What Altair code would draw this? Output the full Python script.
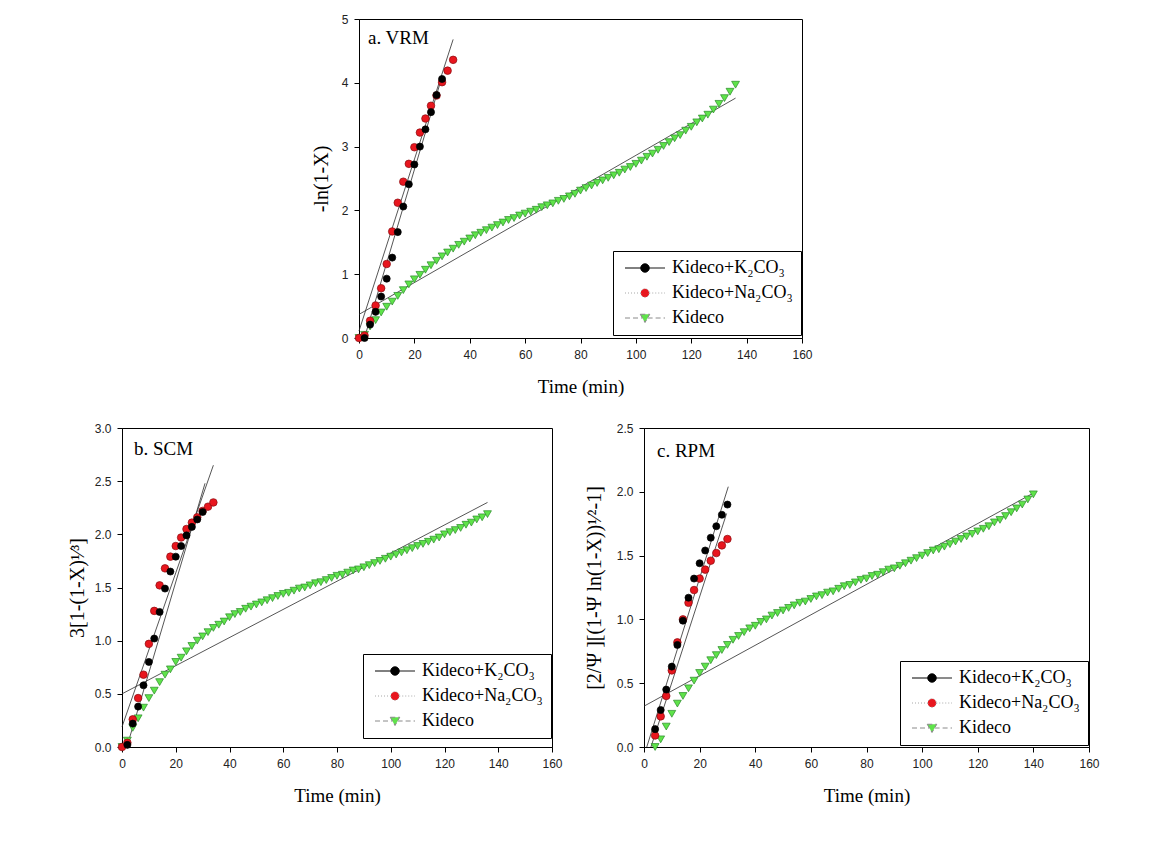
import altair as alt
import pandas as pd

SERIES = ["Kideco+K₂CO₃", "Kideco+Na₂CO₃", "Kideco"]

# ---------------- Panel a: VRM ----------------
a_k_t = [2, 4, 6, 8, 10, 12, 14, 16, 18, 20, 22, 24, 26, 28, 30]
a_k_y = [0.00, 0.21, 0.41, 0.65, 0.93, 1.26, 1.66, 2.06, 2.41, 2.72, 3.00, 3.27, 3.54, 3.81, 4.06]
a_na_t = [0, 2, 4, 6, 8, 10, 12, 14, 16, 18, 20, 22, 24, 26, 28, 30, 32, 34]
a_na_y = [0.00, 0.04, 0.27, 0.51, 0.78, 1.16, 1.67, 2.12, 2.45, 2.73, 2.99, 3.22, 3.44, 3.64, 3.80, 4.01, 4.19, 4.36]
a_kd_t = [0, 2, 4, 6, 8, 10, 12, 14, 16, 18, 20, 22, 24, 26, 28, 30, 32, 34, 36, 38,
          40, 42, 44, 46, 48, 50, 52, 54, 56, 58, 60, 62, 64, 66, 68, 70, 72, 74, 76, 78,
          80, 82, 84, 86, 88, 90, 92, 94, 96, 98, 100, 102, 104, 106, 108, 110, 112, 114, 116, 118,
          120, 122, 124, 126, 128, 130, 132, 134, 136]
a_kd_y = [0.00, 0.05, 0.18, 0.28, 0.40, 0.49, 0.57, 0.66, 0.75, 0.84,
          0.92, 0.99, 1.07, 1.14, 1.21, 1.28, 1.34, 1.40, 1.46, 1.51,
          1.56, 1.61, 1.65, 1.69, 1.73, 1.77, 1.81, 1.85, 1.88, 1.92,
          1.95, 1.98, 2.01, 2.05, 2.08, 2.11, 2.15, 2.18, 2.22, 2.26,
          2.31, 2.35, 2.39, 2.43, 2.47, 2.51, 2.55, 2.59, 2.64, 2.68,
          2.73, 2.78, 2.84, 2.89, 2.95, 3.01, 3.07, 3.13, 3.18, 3.25,
          3.31, 3.38, 3.44, 3.50, 3.58, 3.67, 3.76, 3.86, 3.97]
# fitted straight lines: (t start, t end, y start, y end)
a_fit_t0 = [1.95, 0.0, 0.0]
a_fit_t1 = [30.0, 34.0, 136.0]
a_fit_y0 = [0.00, 0.11, 0.37]
a_fit_y1 = [4.10, 4.68, 3.76]

# ---------------- Panel b: SCM ----------------
b_k_t = [2, 4, 6, 8, 10, 12, 14, 16, 18, 20, 22, 24, 26, 28, 30]
b_k_y = [0.02, 0.22, 0.38, 0.58, 0.80, 1.02, 1.27, 1.49, 1.65, 1.79, 1.89, 1.99, 2.07, 2.14, 2.21]
b_na_t = [0, 2, 4, 6, 8, 10, 12, 14, 16, 18, 20, 22, 24, 26, 28, 30, 32, 34]
b_na_y = [0.00, 0.04, 0.26, 0.46, 0.68, 0.97, 1.28, 1.52, 1.68, 1.79, 1.89, 1.97, 2.05, 2.11, 2.16, 2.22, 2.26, 2.30]
b_kd_t = a_kd_t
b_kd_y = [0.00, 0.06, 0.18, 0.27, 0.37, 0.46, 0.53, 0.61, 0.68, 0.73,
          0.80, 0.84, 0.90, 0.95, 1.00, 1.04, 1.08, 1.12, 1.15, 1.18,
          1.22, 1.25, 1.27, 1.30, 1.32, 1.34, 1.36, 1.38, 1.40, 1.42,
          1.44, 1.45, 1.47, 1.49, 1.50, 1.52, 1.54, 1.55, 1.57, 1.59,
          1.61, 1.62, 1.64, 1.66, 1.67, 1.69, 1.71, 1.73, 1.75, 1.77,
          1.79, 1.81, 1.83, 1.85, 1.87, 1.89, 1.91, 1.93, 1.95, 1.97,
          2.00, 2.02, 2.04, 2.06, 2.09, 2.11, 2.14, 2.16, 2.19]
b_fit_t0 = [1.8, 0.0, 0.0]
b_fit_t1 = [30.9, 34.0, 136.0]
b_fit_y0 = [0.00, 0.19, 0.50]
b_fit_y1 = [2.48, 2.65, 2.30]

# ---------------- Panel c: RPM ----------------
c_k_t = [4, 6, 8, 10, 12, 14, 16, 18, 20, 22, 24, 26, 28, 30]
c_k_y = [0.14, 0.29, 0.45, 0.63, 0.80, 0.99, 1.17, 1.32, 1.44, 1.54, 1.64, 1.73, 1.82, 1.90]
c_na_t = [4, 6, 8, 10, 12, 14, 16, 18, 20, 22, 24, 26, 28, 30]
c_na_y = [0.09, 0.24, 0.40, 0.60, 0.82, 1.00, 1.13, 1.23, 1.32, 1.39, 1.46, 1.52, 1.58, 1.63]
c_kd_t = [4, 6, 8, 10, 12, 14, 16, 18, 20, 22, 24, 26, 28, 30, 32, 34, 36, 38, 40, 42,
          44, 46, 48, 50, 52, 54, 56, 58, 60, 62, 64, 66, 68, 70, 72, 74, 76, 78, 80, 82,
          84, 86, 88, 90, 92, 94, 96, 98, 100, 102, 104, 106, 108, 110, 112, 114, 116, 118, 120, 122,
          124, 126, 128, 130, 132, 134, 136, 138, 140]
c_kd_y = [0.00, 0.06, 0.16, 0.26, 0.34, 0.40, 0.46, 0.52, 0.58, 0.63,
          0.68, 0.72, 0.76, 0.80, 0.84, 0.87, 0.90, 0.93, 0.95, 0.98,
          1.00, 1.03, 1.05, 1.07, 1.09, 1.11, 1.13, 1.14, 1.16, 1.18,
          1.19, 1.21, 1.22, 1.24, 1.26, 1.27, 1.29, 1.31, 1.32, 1.34,
          1.35, 1.37, 1.39, 1.40, 1.42, 1.44, 1.46, 1.48, 1.50, 1.52,
          1.54, 1.55, 1.57, 1.59, 1.61, 1.63, 1.65, 1.67, 1.69, 1.71,
          1.73, 1.76, 1.78, 1.81, 1.84, 1.87, 1.90, 1.94, 1.98]
c_fit_t0 = [1.0, 2.5, 0.0]
c_fit_t1 = [30.3, 29.7, 140.0]
c_fit_y0 = [0.00, 0.00, 0.32]
c_fit_y1 = [2.04, 1.83, 1.99]

X_TICKS = [0, 20, 40, 60, 80, 100, 120, 140, 160]

# point styles (black circle, red circle, green down-triangle)
STYLES = [
    dict(shape="circle", fill="#000000", stroke="#000000", size=50),
    dict(shape="circle", fill="#e8161e", stroke="#8a0c10", size=58),
    dict(shape="triangle-down", fill="#5fe34a", stroke="#2a8a2a", size=62),
]

# legend symbols: short line with marker in the middle (unit = 5 px)
LEG_PATHS = [
    "M-1,0L2.15,0M3.85,0L7,0M3.85,0A0.85,0.85,0,1,1,2.15,0A0.85,0.85,0,1,1,3.85,0Z",
    "M-1,0L2.15,0M3.85,0L7,0M3.85,0A0.85,0.85,0,1,1,2.15,0A0.85,0.85,0,1,1,3.85,0Z",
    "M-1,0L2.48,0M3.52,0L7,0M2.05,-0.75L3.95,-0.75L3,0.9Z",
]
LEG_FILLS = ["#000000", "#e8161e", "#5fe34a"]
LEG_STROKES = ["#000000", "#a8a8a8", "#8a8a8a"]
LEG_DASHES = [[1, 0], [1, 2], [5, 3]]

SERIF = "Liberation Serif"
SANS = "Liberation Sans"
IND = "independent"


def spacer_layer(L, R, T, B):
    return alt.Chart(pd.DataFrame({"k": [0]})).mark_rect(opacity=0).encode(
        x=alt.value(L), x2=alt.value(R), y=alt.value(T), y2=alt.value(B))


def panel(label, series_data, fits, ydom, yticks, yfmt, ytitle, w, h,
          legx, legy, labx, laby, titlex, spacer):
    xs = alt.Scale(domain=[0, 160], nice=False, zero=False)
    ys = alt.Scale(domain=ydom, nice=False, zero=False)
    xax = alt.Axis(values=X_TICKS, title="Time (min)", titleY=48, titleBaseline="middle",
                   titleFontSize=19, labelFlush=False, format="d")
    yax = alt.Axis(values=yticks, format=yfmt, title=ytitle, titleX=titlex, titleY=h / 2,
                   titleBaseline="middle", titleAlign="center", titleAngle=270,
                   titleFontSize=20)
    X = alt.X("t:Q", scale=xs, axis=xax)
    Y = alt.Y("v:Q", scale=ys, axis=yax)

    layers = [spacer_layer(*spacer)]
    # fitted lines
    t0, t1, y0, y1 = fits
    rows = []
    for i in range(3):
        rows.append({"fit": i, "t": t0[i], "v": y0[i]})
        rows.append({"fit": i, "t": t1[i], "v": y1[i]})
    layers.append(
        alt.Chart(pd.DataFrame(rows)).mark_line(color="#2b2b2b", strokeWidth=0.8).encode(
            x=X, y=Y, detail="fit:N")
    )
    # data points (Kideco first, then Na2CO3, then K2CO3 on top)
    for idx in [2, 1, 0]:
        tt, vv = series_data[idx]
        st = STYLES[idx]
        layers.append(
            alt.Chart(pd.DataFrame({"t": tt, "v": vv})).mark_point(
                shape=st["shape"], filled=True, fill=st["fill"], stroke=st["stroke"],
                strokeWidth=0.7, size=st["size"], opacity=1).encode(x=X, y=Y)
        )
    # legend
    leg = alt.Legend(orient="none", legendX=legx, legendY=legy, title=None,
                     padding=8, strokeColor="black", fillColor="white",
                     labelFont=SERIF, labelFontSize=18, labelColor="black",
                     labelOffset=33, rowPadding=7, symbolSize=100,
                     symbolStrokeWidth=1, labelLimit=400, symbolOpacity=1)
    layers.append(
        alt.Chart(pd.DataFrame({"series": SERIES})).transform_filter("false").mark_point(
            filled=True, size=100, strokeWidth=1, opacity=1).encode(
            shape=alt.Shape("series:N", scale=alt.Scale(domain=SERIES, range=LEG_PATHS), legend=leg),
            fill=alt.Fill("series:N", scale=alt.Scale(domain=SERIES, range=LEG_FILLS), legend=leg),
            stroke=alt.Stroke("series:N", scale=alt.Scale(domain=SERIES, range=LEG_STROKES), legend=leg),
            strokeDash=alt.StrokeDash("series:N", scale=alt.Scale(domain=SERIES, range=LEG_DASHES), legend=leg),
        )
    )
    # panel label
    layers.append(
        alt.Chart(pd.DataFrame({"lab": [label]})).mark_text(
            align="left", baseline="alphabetic", font=SERIF, fontSize=19, color="black").encode(
            text="lab:N", x=alt.value(labx), y=alt.value(laby))
    )
    return alt.layer(*layers).properties(width=w, height=h)


def indep(ch):
    return ch.resolve_scale(shape=IND, fill=IND, stroke=IND, strokeDash=IND).resolve_legend(
        shape=IND, fill=IND, stroke=IND, strokeDash=IND)


# empty cell left of panel a (shifts panel a to the right)
blank = spacer_layer(0, 138, -10, 384).properties(
    width=138, height=1, view=alt.ViewBackground(stroke="transparent"))

pa = panel("a. VRM",
           [(a_k_t, a_k_y), (a_na_t, a_na_y), (a_kd_t, a_kd_y)],
           (a_fit_t0, a_fit_t1, a_fit_y0, a_fit_y1),
           [0, 5], [0, 1, 2, 3, 4, 5], "d", "-ln(1-X)", 443, 319,
           254, 232, 9, 25, -38, (-97, -90, -10, 384))

pb = panel("b. SCM",
           [(b_k_t, b_k_y), (b_na_t, b_na_y), (b_kd_t, b_kd_y)],
           (b_fit_t0, b_fit_t1, b_fit_y0, b_fit_y1),
           [0, 3], [0, 0.5, 1.0, 1.5, 2.0, 2.5, 3.0], ".1f", "3[1-(1-X)¹⁄³]", 430, 319,
           241, 226, 12, 27, -45, (-113, 450, -23, 330))

pc = panel("c. RPM",
           [(c_k_t, c_k_y), (c_na_t, c_na_y), (c_kd_t, c_kd_y)],
           (c_fit_t0, c_fit_t1, c_fit_y0, c_fit_y1),
           [0, 2.5], [0, 0.5, 1.0, 1.5, 2.0, 2.5], ".1f", "[2/Ψ ][(1-Ψ ln(1-X))¹⁄²-1]", 445, 319,
           256, 233, 13, 29, -50, (-70, 0, -23, 330))

top_row = indep(alt.hconcat(blank, pa, spacing=0))
bottom_row = indep(alt.hconcat(pb, pc, spacing=0))

chart = indep(alt.vconcat(top_row, bottom_row, spacing=0)).properties(
    padding={"left": 0, "top": 0, "right": 5, "bottom": 5}
).configure_view(stroke="black", strokeWidth=1).configure_axis(
    grid=False, domainColor="black", domainWidth=1, tickColor="black", tickWidth=1,
    tickSize=5, labelPadding=6, labelFont=SANS, labelFontSize=12, labelColor="#222222",
    titleFont=SERIF, titleFontSize=18, titleFontWeight="normal", titleColor="black"
)

chart.save("out.html", embed_options={"renderer": "svg", "actions": False})
